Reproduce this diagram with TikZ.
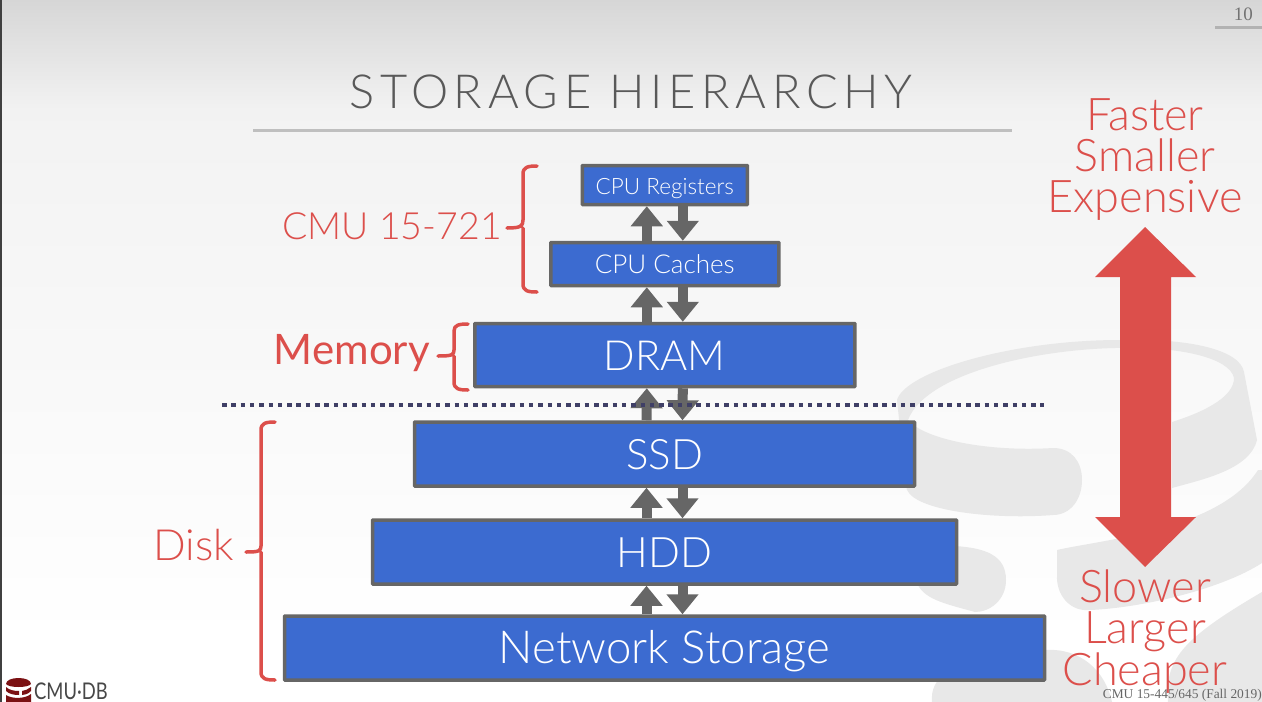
\documentclass[tikz,border=0pt]{standalone}
\usepackage{fontspec}
\setmainfont{Lato Light}
\newfontfamily\titlefont[LetterSpace=12]{Lato Light}
\newfontfamily\logofont{Lato}
\newfontfamily\footfont{Liberation Serif}
\usetikzlibrary{arrows.meta, positioning, calc}

\definecolor{boxblue}{HTML}{3C6BD0}
\definecolor{boxgray}{HTML}{666666}
\definecolor{labelred}{HTML}{DC4F4B}
\definecolor{markgray}{HTML}{E8E8E8}
\definecolor{dotblue}{HTML}{3F3F66}
\definecolor{logored}{HTML}{7B1113}

\begin{document}
\begin{tikzpicture}[
    x=1pt, y=-1pt,
    level/.style={draw=boxgray, fill=boxblue, line width=3.5pt, text=white, inner sep=0pt, rounded corners=0.5pt, align=center, text depth=0pt},
    small level/.style={level, text height=19pt},
    big level/.style={level, text height=30pt},
    updown/.style={boxgray, line width=10pt, -{Triangle[length=20pt, width=31pt]}},
    redlabel/.style={text=labelred, inner sep=0pt, align=center},
    brace/.style={labelred, line width=3.5pt, line cap=round, line join=round}
]

    % === Background ===
    \useasboundingbox (0,0) rectangle (1262,702);
    \fill[white] (0,0) rectangle (1262,702);
    \shade[top color=black!16, bottom color=black!5] (0,0) rectangle (1262,110);
    \shade[top color=black!5, bottom color=white] (0,110) rectangle (1262,640);
    \fill[black!75] (0,0) rectangle (1.5,702);

    % === Watermark ===
    \begin{scope}
    \clip (0,0) rectangle (1262,702);
    \fill[markgray, even odd rule]
        (897,400) .. controls (905,372) and (1010,340) .. (1120,340)
        .. controls (1190,338) and (1240,350) .. (1244,372)
        -- (1257,440) .. controls (1250,470) and (1200,480) .. (1172,488)
        -- (1172,422) .. controls (1210,410) and (1234,395) .. (1234,378)
        .. controls (1230,358) and (1180,346) .. (1115,348)
        .. controls (1030,350) and (925,375) .. (908,420)
        .. controls (925,440) and (990,452) .. (1053,448)
        .. controls (1072,448) and (1082,462) .. (1082,480)
        .. controls (1082,500) and (1070,515) .. (1053,515)
        .. controls (990,520) and (905,510) .. (906,485) -- cycle;
    \fill[markgray] (1057,550) .. controls (1100,540) and (1220,530) .. (1258,470) -- (1262,470) -- (1262,563)
        .. controls (1220,590) and (1140,608) .. (1090,610)
        .. controls (1070,612) and (1056,595) .. (1057,575) -- cycle;
    \fill[markgray] (955,546) .. controls (985,548) and (1006,555) .. (1006,580)
        .. controls (1006,600) and (990,612) .. (975,612)
        .. controls (950,605) and (925,600) .. (918,585) -- cycle;
    \fill[markgray] (1168,702) .. controls (1165,660) and (1180,640) .. (1262,592) -- (1262,702) -- cycle;
    \fill[markgray] (932,702) .. controls (930,680) and (945,655) .. (1046,650)
        .. controls (1080,648) and (1105,670) .. (1112,702) -- cycle;
    \end{scope}

    % === Title ===
    \node[inner sep=0pt, text=black!65, font=\fontsize{47}{50}\titlefont] (title) at (631,92) {STORAGE HIERARCHY};
    \draw[black!25, line width=3pt] (253,130) -- (1012,130);

    % === Levels ===
    \node[small level, minimum width=165pt, minimum height=39pt, font=\fontsize{22.5}{24}\selectfont] (regs) at (664.8,185) {CPU Registers};
    \node[small level, minimum width=228pt, minimum height=43pt, font=\fontsize{26}{28}\selectfont] (caches) at (664.8,264) {CPU Caches};
    \node[big level, minimum width=380pt, minimum height=63pt, font=\fontsize{41.5}{44}\selectfont] (dram) at (664.8,355) {DRAM};
    \node[big level, minimum width=500pt, minimum height=64pt, font=\fontsize{42}{44}\selectfont] (ssd) at (664.5,454) {SSD};
    \node[big level, minimum width=584pt, minimum height=64pt, font=\fontsize{42}{44}\selectfont] (hdd) at (664.5,552) {HDD};
    \node[big level, minimum width=760pt, minimum height=64pt, font=\fontsize{45.5}{48}\selectfont] (net) at (664.5,648) {Network Storage};

    % === Arrows between levels ===
    \foreach \upper/\lower in {regs/caches, caches/dram, dram/ssd, ssd/hdd, hdd/net} {
        \draw[updown] ([xshift=-18pt]\lower.north) -- ([xshift=-18pt]\upper.south);
        \draw[updown] ([xshift=18pt]\upper.south) -- ([xshift=18pt]\lower.north);
    }

    % === Dotted separator ===
    \draw[dotblue, line width=4.5pt, dash pattern=on 4.5pt off 4.8pt] (222,405) -- (1044,405);

    % === Braces ===
    \draw[brace] (537,166) .. controls (528,166) and (523,167) .. (523,174) -- (523,220)
        .. controls (523,226) and (521,228) .. (507,228)
        (523,228) -- (523,284) .. controls (523,291) and (528,292) .. (537,292);
    \node[redlabel, anchor=east, font=\fontsize{37.5}{40}\selectfont] (cmu) at (502,226) {CMU 15-721};

    \draw[brace] (468,324) .. controls (459,324) and (454,325) .. (454,331) -- (454,350)
        .. controls (454,355) and (452,356) .. (438,356)
        (454,356) -- (454,382) .. controls (454,389) and (459,390) .. (468,390);
    \node[redlabel, anchor=east, font=\fontsize{42}{44}\logofont] (mem) at (430,353) {Memory};

    \draw[brace] (275,422) .. controls (266,422) and (261,423) .. (261,430) -- (261,546)
        .. controls (261,551) and (259,552) .. (246,552)
        (261,552) -- (261,672) .. controls (261,679) and (266,680) .. (275,680);
    \node[redlabel, anchor=east, font=\fontsize{43}{44}\selectfont] (disk) at (234,545) {Disk};

    % === Big double arrow ===
    \fill[labelred] (1145,227) -- (1196,277) -- (1171,277) -- (1171,517) -- (1196,517)
        -- (1145,567) -- (1095,517) -- (1120,517) -- (1120,277) -- (1095,277) -- cycle;
    \node[redlabel, font=\fontsize{45}{41}\selectfont] (fast) at (1145,160) {Faster\\Smaller\\Expensive};
    \node[redlabel, font=\fontsize{45}{41}\selectfont] (slow) at (1145,632) {Slower\\Larger\\Cheaper};

    % === Logo ===
    \fill[logored] (6,684) .. controls (6,676) and (31,676) .. (31,684) .. controls (28,688) and (9,688) .. (6,684) -- cycle;
    \fill[logored] (6,687) .. controls (9,690) and (14,691) .. (19,691) -- (19,695) .. controls (14,695) and (9,694) .. (6,691) -- cycle;
    \fill[logored] (22,691) .. controls (25,691) and (28,689) .. (31,687) -- (31,691) .. controls (28,694) and (25,695) .. (22,695) -- cycle;
    \fill[logored] (6,695) .. controls (12,699) and (25,699) .. (31,694) -- (31,702) -- (6,702) -- cycle;
    \node[anchor=west, inner sep=0pt, text=black!72, xscale=0.8, font=\fontsize{23}{23}\logofont] (logo) at (34,691) {CMU·DB};

    % === Page furniture ===
    \node[anchor=east, inner sep=0pt, text=black!55, font=\fontsize{19}{19}\footfont] (page) at (1253,14) {10};
    \draw[black!30, line width=3pt] (1215,27) -- (1262,27);
    \node[anchor=east, inner sep=0pt, text=black!60, font=\fontsize{13.4}{14}\footfont] (course) at (1262,695) {CMU 15-445/645 (Fall 2019)};

\end{tikzpicture}
\end{document}
